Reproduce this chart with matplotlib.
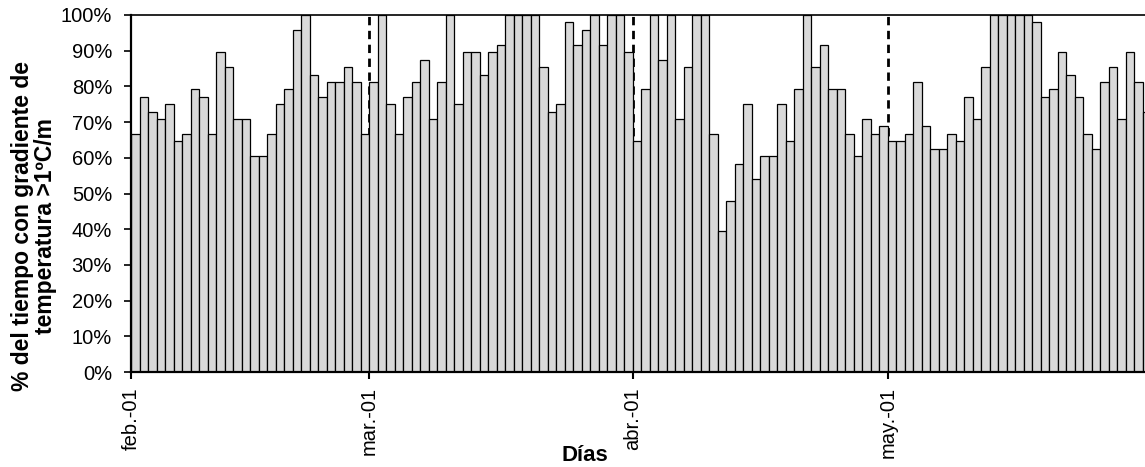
import numpy as np
import pandas as pd
import matplotlib
matplotlib.use("Agg")
import matplotlib.pyplot as plt
import matplotlib.dates as mdates
from matplotlib.ticker import FuncFormatter

plt.rcParams['font.family'] = ['Liberation Sans', 'DejaVu Sans']

# dias desde el 1 de febrero hasta el 31 de mayo
dias = pd.date_range("2001-02-01", "2001-05-31", freq="D")

feb = [66.7, 77.1, 72.9, 70.8, 75.0, 64.6, 66.7, 79.2, 77.1, 66.7,
       89.6, 85.4, 70.8, 70.8, 60.4, 60.4, 66.7, 75.0, 79.2, 95.8,
       100, 83.3, 77.1, 81.2, 81.2, 85.4, 81.2, 66.7]
mar = [81.2, 100, 75.0, 66.7, 77.1, 81.2, 87.5, 70.8, 81.2, 100,
       75.0, 89.6, 89.6, 83.3, 89.6, 91.7, 100, 100, 100, 100,
       85.4, 72.9, 75.0, 97.9, 91.7, 95.8, 100, 91.7, 100, 100, 89.6]
abr = [64.6, 79.2, 100, 87.5, 100, 70.8, 85.4, 100, 100, 66.7,
       39.6, 47.9, 58.3, 75.0, 54.2, 60.4, 60.4, 75.0, 64.6, 79.2,
       100, 85.4, 91.7, 79.2, 79.2, 66.7, 60.4, 70.8, 66.7, 68.8]
may = [64.6, 64.6, 66.7, 81.2, 68.8, 62.5, 62.5, 66.7, 64.6, 77.1,
       70.8, 85.4, 100, 100, 100, 100, 100, 97.9, 77.1, 79.2,
       89.6, 83.3, 77.1, 66.7, 62.5, 81.2, 85.4, 70.8, 89.6, 81.2, 72.9]
porcentaje = feb + mar + abr + may

inicio_mes = pd.to_datetime(["2001-02-01", "2001-03-01", "2001-04-01", "2001-05-01"])
etiquetas_mes = ["feb.-01", "mar.-01", "abr.-01", "may.-01"]

x = mdates.date2num(dias)
x_mes = mdates.date2num(inicio_mes)

fig = plt.figure(figsize=(11.45, 4.67), dpi=100)
ax = fig.add_axes([0.1148, 0.2034, 0.8908, 0.7645])

for xm in x_mes[1:]:
    ax.axvline(xm, color="black", linestyle=(0, (3, 2)), linewidth=2, zorder=1)

ax.bar(x, porcentaje, width=1, align="edge", color="#d9d9d9",
       edgecolor="black", linewidth=0.9, zorder=2)

ax.set_xlim(x[0], x[-1] + 1)
ax.set_ylim(0, 100)
ax.set_yticks(np.arange(0, 101, 10))
ax.yaxis.set_major_formatter(FuncFormatter(lambda v, p: "%d%%" % v))
ax.set_xticks(x_mes)
ax.set_xticklabels(etiquetas_mes, rotation=90, va="top", ha="center")

ax.tick_params(axis="y", direction="out", length=5, width=1.2, labelsize=14.5, pad=9)
ax.tick_params(axis="x", direction="out", length=5, width=1.5, labelsize=14.5, pad=6)

for s in ["left", "bottom"]:
    ax.spines[s].set_linewidth(1.6)
ax.spines["top"].set_linewidth(1.2)
ax.spines["right"].set_visible(False)

ax.set_xlabel("Días", fontsize=16, fontweight="bold")
ax.xaxis.set_label_coords(0.4447, -0.2325)
ax.xaxis.label.set_va("center")

fig.text(34 / 1145, 1 - 226 / 467,
         "% del tiempo con gradiente de\ntemperatura >1ºC/m",
         rotation=90, ha="center", va="center", multialignment="center",
         fontsize=16.5, fontweight="bold", linespacing=1.0)

plt.savefig("out.png", dpi=100)
